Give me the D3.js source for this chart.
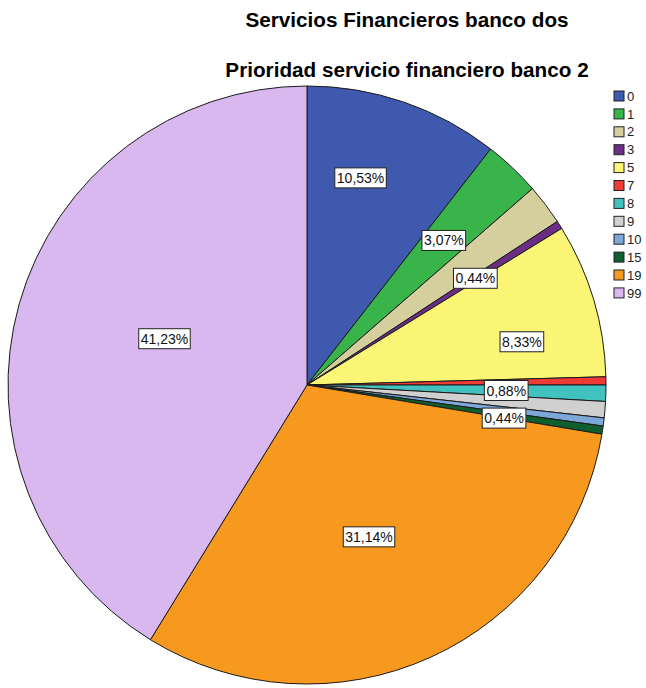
<!DOCTYPE html>
<html>
<head>
<meta charset="utf-8">
<script src="https://cdn.jsdelivr.net/npm/d3@7"></script>
<style>
  html, body { margin: 0; padding: 0; background: #fff; }
  svg { display: block; font-family: "Liberation Sans", Arial, sans-serif; }
</style>
</head>
<body>
<svg id="chart" width="646" height="688"></svg>
<script>
// Prioridad servicio financiero banco 2 — response counts per category
const categories = ["0", "1", "2", "3", "5", "7", "8", "9", "10", "15", "19", "99"];
const counts     = [24, 7, 5, 1, 19, 1, 2, 2, 1, 1, 71, 94];
const percents   = [10.53, 3.07, 2.19, 0.44, 8.33, 0.44, 0.88, 0.88, 0.44, 0.44, 31.14, 41.23];
const colors     = ["#3E59AD", "#38B44A", "#D5CF9D", "#6C2D84", "#FAF574", "#EF3A35",
                    "#42C2BE", "#D0D0D0", "#7DA7D8", "#0F5E2E", "#F7991E", "#D9B8EF"];
// categories whose percentage is printed on the slice
const labelled   = ["0", "1", "3", "5", "8", "15", "19", "99"];
// small shifts applied to a few labels so the boxes do not collide
const labelNudge = { "0": [-10, -22], "5": [26, 13], "99": [0, -6], "19": [-8, -2], "15": [0, 3] };

const titleLines = ["Servicios Financieros banco dos", "Prioridad servicio financiero banco 2"];

const svg = d3.select("#chart");
const cx = 307, cy = 385, R = 299;

// titles
svg.selectAll("text.title")
  .data(titleLines)
  .join("text")
  .attr("class", "title")
  .attr("x", 407)
  .attr("y", (d, i) => 27 + i * 50)
  .attr("text-anchor", "middle")
  .attr("font-size", 20.7)
  .attr("font-weight", "bold")
  .attr("fill", "#000")
  .text(d => d);

const data = categories.map((c, i) => ({ cat: c, count: counts[i], pct: percents[i], color: colors[i] }));

const pie = d3.pie().value(d => d.count).sort(null);
const arcs = pie(data);
const arc = d3.arc().innerRadius(0).outerRadius(R);

const g = svg.append("g").attr("transform", `translate(${cx},${cy})`);

g.selectAll("path")
  .data(arcs)
  .join("path")
  .attr("d", arc)
  .attr("fill", d => d.data.color)
  .attr("stroke", "#1a1a1a")
  .attr("stroke-width", 1)
  .attr("stroke-linejoin", "round");

// label position: area centroid of the circular sector
function sectorCentroid(d) {
  const half = (d.endAngle - d.startAngle) / 2;
  const mid = (d.startAngle + d.endAngle) / 2;
  const r = half < 1e-6 ? 2 * R / 3 : (2 * R * Math.sin(half)) / (3 * half);
  return [r * Math.sin(mid), -r * Math.cos(mid)];
}

const fmt = v => d3.format(".2f")(v).replace(".", ",") + "%";

const labels = g.selectAll("g.lbl")
  .data(arcs.filter(d => labelled.includes(d.data.cat)))
  .join("g")
  .attr("class", "lbl")
  .attr("transform", d => {
    const [x, y] = sectorCentroid(d);
    const n = labelNudge[d.data.cat] || [0, 0];
    return `translate(${x + n[0]},${y + n[1]})`;
  });

labels.append("rect");
labels.append("text")
  .attr("text-anchor", "middle")
  .attr("dy", "0.36em")
  .attr("font-size", 14)
  .attr("fill", "#111")
  .text(d => fmt(d.data.pct));

labels.each(function () {
  const t = d3.select(this).select("text");
  const w = t.node().getComputedTextLength() + 4;
  const h = 20;
  d3.select(this).select("rect")
    .attr("x", -w / 2).attr("y", -h / 2)
    .attr("width", w).attr("height", h)
    .attr("fill", "#fff")
    .attr("stroke", "#222")
    .attr("stroke-width", 1);
});

// legend
const lg = svg.append("g").attr("transform", "translate(614,91)");
const item = lg.selectAll("g")
  .data(data)
  .join("g")
  .attr("transform", (d, i) => `translate(0,${i * 17.9})`);
item.append("rect")
  .attr("width", 10).attr("height", 10)
  .attr("fill", d => d.color)
  .attr("stroke", "#222")
  .attr("stroke-width", 1);
item.append("text")
  .attr("x", 13).attr("y", 5)
  .attr("dy", "0.36em")
  .attr("font-size", 13)
  .attr("fill", "#222")
  .text(d => d.cat);
</script>
</body>
</html>
